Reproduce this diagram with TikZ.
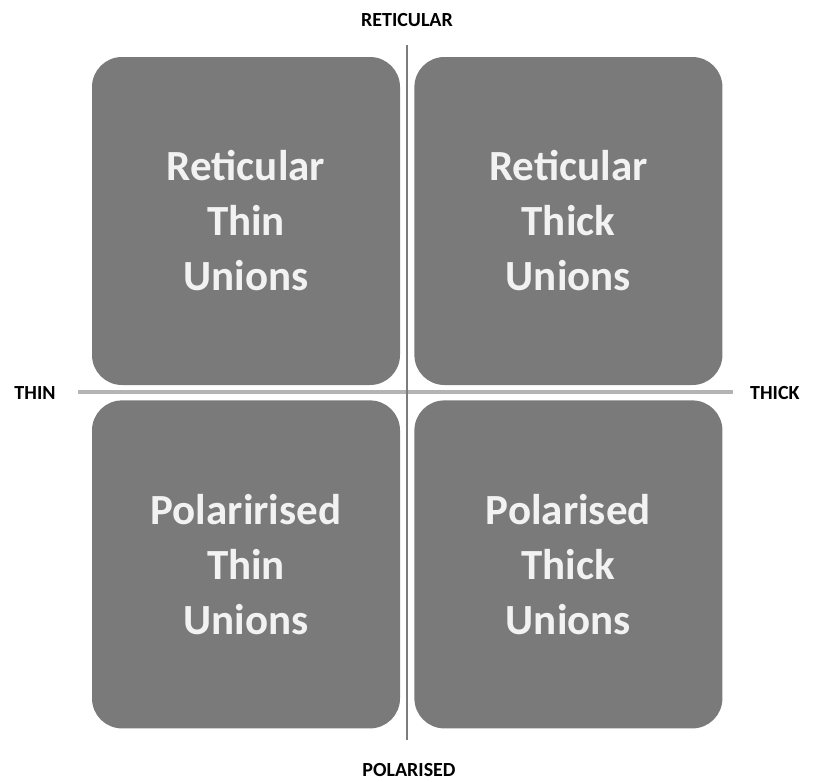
\documentclass[tikz,border=0pt]{standalone}
\usepackage{fontspec}
\setmainfont{Carlito}
\usetikzlibrary{positioning}
\definecolor{QuadGray}{HTML}{7A7A7A}
\definecolor{QuadText}{HTML}{F2F2F2}
\definecolor{AxisLight}{HTML}{B4B4B4}
\definecolor{AxisDark}{HTML}{7C7C7C}

\begin{document}
\begin{tikzpicture}[x=1pt, y=-1pt,
    node distance=15pt and 14pt,
    quad/.style={fill=QuadGray, rounded corners=30pt, minimum width=308pt,
      minimum height=328pt, inner sep=0pt, align=center, text=QuadText,
      font=\fontsize{43}{55}\selectfont\bfseries},
    axislabel/.style={inner sep=0pt, text=black, font=\fontsize{20}{20}\selectfont\bfseries},
    haxis/.style={draw=AxisLight, line width=4.5pt},
    vaxis/.style={draw=AxisDark, line width=2.5pt}
  ]
    \useasboundingbox (0,0) rectangle (815,782);
    \node[quad] (rtn) at (246,221) {Reticular\\Thin\\Unions};
    \node[quad, right=of rtn] (rtk) {Reticular\\Thick\\Unions};
    \node[quad, below=of rtn] (ptn) {Polarirised\\Thin\\Unions};
    \node[quad, below=of rtk] (ptk) {Polarised\\Thick\\Unions};
    \node[axislabel] (ret) at (407,20) {RETICULAR};
    \node[axislabel] (pol) at (409,770) {POLARISED};
    \node[axislabel] (thin) at (35,393) {THIN};
    \node[axislabel, anchor=west] (thick) at (750,393) {THICK};
    \coordinate (vtop) at (407,45);
    \coordinate (vbot) at (407,740);
    \coordinate (hleft) at (78,392);
    \coordinate (hright) at (733,392);
    \draw[haxis] (hleft) -- (hright);
    \draw[vaxis] (vtop) -- (vbot);
  \end{tikzpicture}
\end{document}
